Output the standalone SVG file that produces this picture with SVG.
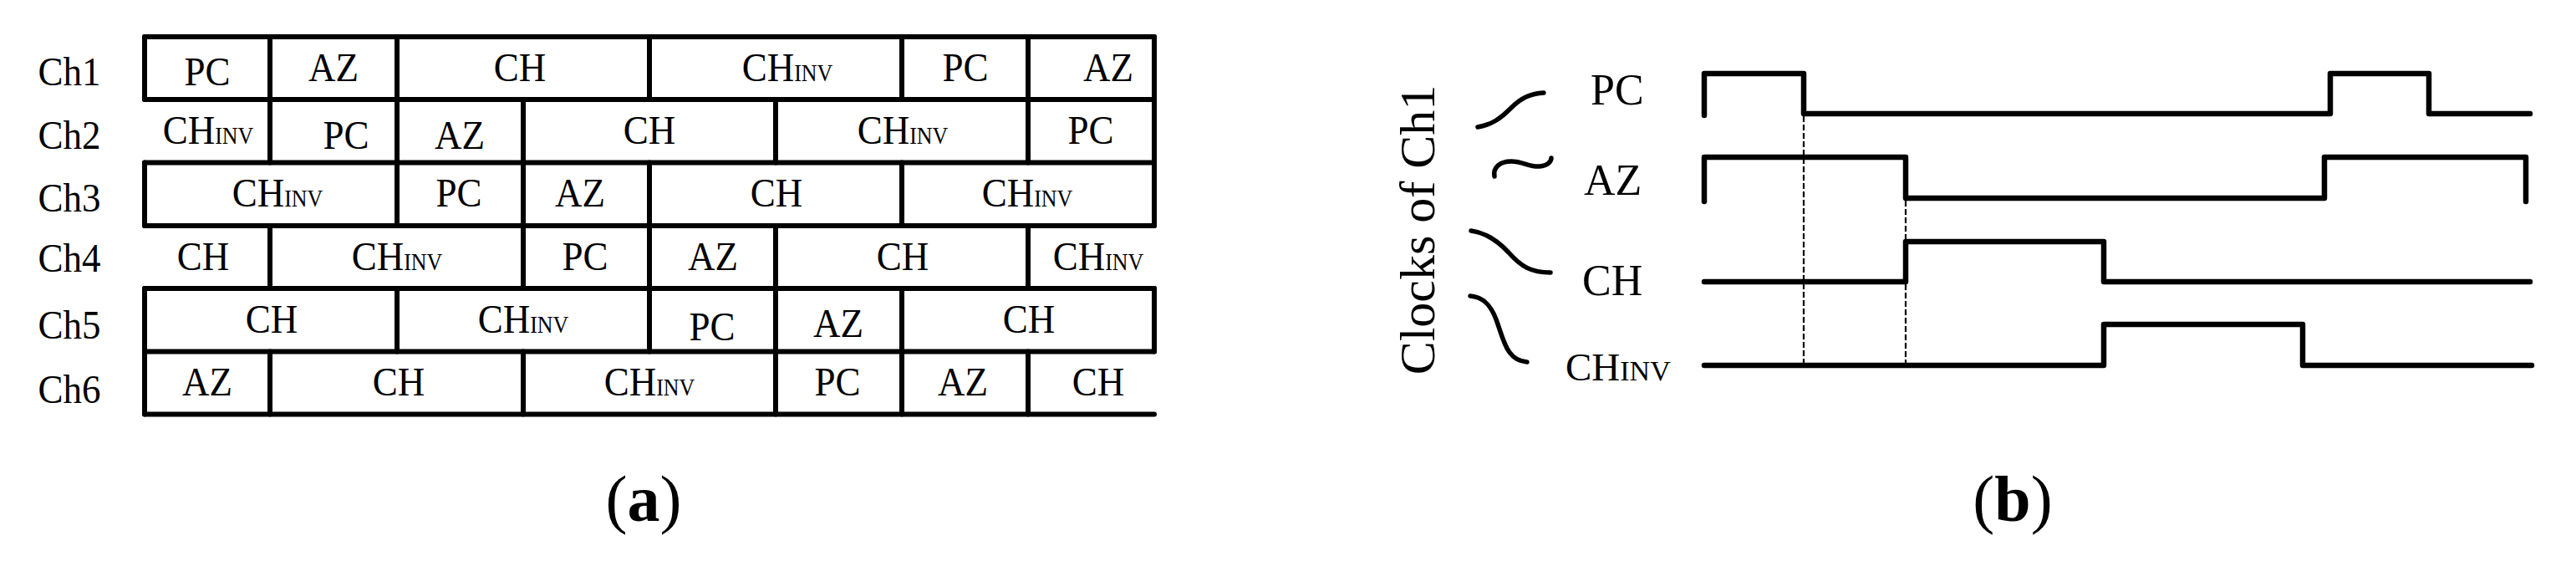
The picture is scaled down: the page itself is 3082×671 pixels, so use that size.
<svg xmlns="http://www.w3.org/2000/svg" width="3082" height="671" viewBox="0 0 3082 671">
<style>
.bg{fill:#fff}
.g line{stroke:#000;stroke-width:6;stroke-linecap:round}
.t{font-family:"Liberation Serif","Times New Roman",serif;font-size:45px;fill:#000;text-anchor:middle}
.sub{font-size:26px}
.lb{font-family:"Liberation Serif","Times New Roman",serif;font-size:52px;fill:#000}
.lsub{font-size:34px}
.wave{fill:none;stroke:#000;stroke-width:6.5;stroke-linejoin:round;stroke-linecap:round}
.dash{fill:none;stroke:#000;stroke-width:2.2;stroke-dasharray:7 3}
.brace{fill:none;stroke:#000;stroke-width:5.5;stroke-linecap:round}
.cap{font-family:"Liberation Serif","Times New Roman",serif;font-size:78px;fill:#000;text-anchor:middle}
</style>
<rect class="bg" x="0" y="0" width="3082" height="671"/>

<!-- (a) table -->
<g id="table-a" class="g">
  <g id="grid-h">
    <line x1="173" y1="44" x2="1381" y2="44"/>
    <line x1="173" y1="119" x2="1381" y2="119"/>
    <line x1="173" y1="194.5" x2="1381" y2="194.5"/>
    <line x1="173" y1="270" x2="1381" y2="270"/>
    <line x1="173" y1="345" x2="1381" y2="345"/>
    <line x1="173" y1="420.5" x2="1381" y2="420.5"/>
    <line x1="173" y1="495.5" x2="1381" y2="495.5"/>
  </g>
  <g id="ch1">
    <line x1="173" y1="44" x2="173" y2="119"/>
    <line x1="323" y1="44" x2="323" y2="119"/>
    <line x1="475" y1="44" x2="475" y2="119"/>
    <line x1="777" y1="44" x2="777" y2="119"/>
    <line x1="1079" y1="44" x2="1079" y2="119"/>
    <line x1="1230" y1="44" x2="1230" y2="119"/>
    <line x1="1381" y1="44" x2="1381" y2="119"/>
    <text class="t" transform="matrix(1 0 0 1.1 83 102)">Ch1</text>
    <text class="t" transform="matrix(1 0 0 1.1 248 102)">PC</text>
    <text class="t" transform="matrix(1 0 0 1.1 399 97)">AZ</text>
    <text class="t" transform="matrix(1 0 0 1.1 622 97)">CH</text>
    <text class="t" transform="matrix(1 0 0 1.1 942 97)">CH<tspan class="sub">INV</tspan></text>
    <text class="t" transform="matrix(1 0 0 1.1 1155 97)">PC</text>
    <text class="t" transform="matrix(1 0 0 1.1 1326 97)">AZ</text>
  </g>
  <g id="ch2">
    <line x1="323" y1="119" x2="323" y2="194.5"/>
    <line x1="475" y1="119" x2="475" y2="194.5"/>
    <line x1="626" y1="119" x2="626" y2="194.5"/>
    <line x1="928" y1="119" x2="928" y2="194.5"/>
    <line x1="1230" y1="119" x2="1230" y2="194.5"/>
    <line x1="1381" y1="119" x2="1381" y2="194.5"/>
    <text class="t" transform="matrix(1 0 0 1.1 83 178)">Ch2</text>
    <text class="t" transform="matrix(1 0 0 1.1 249 172)">CH<tspan class="sub">INV</tspan></text>
    <text class="t" transform="matrix(1 0 0 1.1 414 178)">PC</text>
    <text class="t" transform="matrix(1 0 0 1.1 550 178)">AZ</text>
    <text class="t" transform="matrix(1 0 0 1.1 777 172)">CH</text>
    <text class="t" transform="matrix(1 0 0 1.1 1080 172)">CH<tspan class="sub">INV</tspan></text>
    <text class="t" transform="matrix(1 0 0 1.1 1305 172)">PC</text>
  </g>
  <g id="ch3">
    <line x1="173" y1="194.5" x2="173" y2="270"/>
    <line x1="475" y1="194.5" x2="475" y2="270"/>
    <line x1="626" y1="194.5" x2="626" y2="270"/>
    <line x1="777" y1="194.5" x2="777" y2="270"/>
    <line x1="1079" y1="194.5" x2="1079" y2="270"/>
    <line x1="1381" y1="194.5" x2="1381" y2="270"/>
    <text class="t" transform="matrix(1 0 0 1.1 83 253)">Ch3</text>
    <text class="t" transform="matrix(1 0 0 1.1 332 247)">CH<tspan class="sub">INV</tspan></text>
    <text class="t" transform="matrix(1 0 0 1.1 549 247)">PC</text>
    <text class="t" transform="matrix(1 0 0 1.1 694 247)">AZ</text>
    <text class="t" transform="matrix(1 0 0 1.1 929 247)">CH</text>
    <text class="t" transform="matrix(1 0 0 1.1 1229 247)">CH<tspan class="sub">INV</tspan></text>
  </g>
  <g id="ch4">
    <line x1="323" y1="270" x2="323" y2="345"/>
    <line x1="626" y1="270" x2="626" y2="345"/>
    <line x1="777" y1="270" x2="777" y2="345"/>
    <line x1="928" y1="270" x2="928" y2="345"/>
    <line x1="1230" y1="270" x2="1230" y2="345"/>
    <text class="t" transform="matrix(1 0 0 1.1 83 325)">Ch4</text>
    <text class="t" transform="matrix(1 0 0 1.1 243 323)">CH</text>
    <text class="t" transform="matrix(1 0 0 1.1 475 323)">CH<tspan class="sub">INV</tspan></text>
    <text class="t" transform="matrix(1 0 0 1.1 700 323)">PC</text>
    <text class="t" transform="matrix(1 0 0 1.1 853 323)">AZ</text>
    <text class="t" transform="matrix(1 0 0 1.1 1080 323)">CH</text>
    <text class="t" transform="matrix(1 0 0 1.1 1314 323)">CH<tspan class="sub">INV</tspan></text>
  </g>
  <g id="ch5">
    <line x1="173" y1="345" x2="173" y2="420.5"/>
    <line x1="475" y1="345" x2="475" y2="420.5"/>
    <line x1="777" y1="345" x2="777" y2="420.5"/>
    <line x1="928" y1="345" x2="928" y2="420.5"/>
    <line x1="1079" y1="345" x2="1079" y2="420.5"/>
    <line x1="1381" y1="345" x2="1381" y2="420.5"/>
    <text class="t" transform="matrix(1 0 0 1.1 83 405)">Ch5</text>
    <text class="t" transform="matrix(1 0 0 1.1 325 398)">CH</text>
    <text class="t" transform="matrix(1 0 0 1.1 626 398)">CH<tspan class="sub">INV</tspan></text>
    <text class="t" transform="matrix(1 0 0 1.1 852 407)">PC</text>
    <text class="t" transform="matrix(1 0 0 1.1 1003 403)">AZ</text>
    <text class="t" transform="matrix(1 0 0 1.1 1231 398)">CH</text>
  </g>
  <g id="ch6">
    <line x1="173" y1="420.5" x2="173" y2="495.5"/>
    <line x1="323" y1="420.5" x2="323" y2="495.5"/>
    <line x1="626" y1="420.5" x2="626" y2="495.5"/>
    <line x1="928" y1="420.5" x2="928" y2="495.5"/>
    <line x1="1079" y1="420.5" x2="1079" y2="495.5"/>
    <line x1="1230" y1="420.5" x2="1230" y2="495.5"/>
    <text class="t" transform="matrix(1 0 0 1.1 83 482)">Ch6</text>
    <text class="t" transform="matrix(1 0 0 1.1 248 473)">AZ</text>
    <text class="t" transform="matrix(1 0 0 1.1 477 473)">CH</text>
    <text class="t" transform="matrix(1 0 0 1.1 777 473)">CH<tspan class="sub">INV</tspan></text>
    <text class="t" transform="matrix(1 0 0 1.1 1002 473)">PC</text>
    <text class="t" transform="matrix(1 0 0 1.1 1152 473)">AZ</text>
    <text class="t" transform="matrix(1 0 0 1.1 1314 473)">CH</text>
  </g>
</g>
<text id="cap-a" class="cap" x="770" y="623">(<tspan font-weight="bold">a</tspan>)</text>

<!-- (b) clocks -->
<g id="clocks-b">
  <text id="title-b" class="lb" transform="translate(1716,275) rotate(-90)" text-anchor="middle" style="font-size:60px">Clocks of Ch1</text>
  <g id="braces">
    <path class="brace" d="M1768,152 C1785,149 1795,142 1808,129 C1821,116 1832,112 1847,111"/>
    <path class="brace" d="M1788,211 C1786,200 1795,193 1808,193 C1822,193 1830,200 1842,199 C1852,198 1856,193 1856,189"/>
    <path class="brace" d="M1760,276 C1776,278 1790,286 1805,302 C1820,319 1832,326 1855,326"/>
    <path class="brace" d="M1759,354 C1773,355 1783,363 1790,382 C1799,406 1802,431 1827,433"/>
  </g>
  <g id="sig-pc">
    <text class="lb" x="1903" y="125">PC</text>
    <path class="wave" d="M2039,138 V88 H2158 V136 H2788 V88 H2906 V136 H3027"/>
  </g>
  <g id="sig-az">
    <text class="lb" x="1895" y="233">AZ</text>
    <path class="wave" d="M2039,241 V188 H2280 V237 H2781 V188 H3022 V241"/>
  </g>
  <g id="sig-ch">
    <text class="lb" x="1893" y="353">CH</text>
    <path class="wave" d="M2039,337 H2280 V289 H2517 V337 H3027"/>
  </g>
  <g id="sig-chinv">
    <text class="lb" x="1873" y="455" style="font-size:47px">CH<tspan class="lsub">INV</tspan></text>
    <path class="wave" d="M2039,437 H2517 V388 H2755 V437 H3029"/>
  </g>
  <g id="connectors">
    <line class="dash" x1="2158" y1="139" x2="2158" y2="434"/>
    <line class="dash" x1="2280" y1="240" x2="2280" y2="434"/>
  </g>
</g>
<text id="cap-b" class="cap" x="2408" y="623">(<tspan font-weight="bold">b</tspan>)</text>
</svg>
